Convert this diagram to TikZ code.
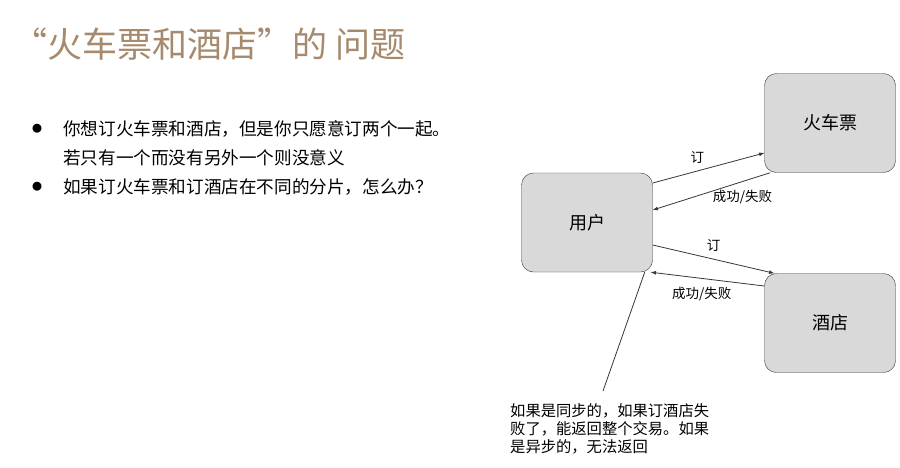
\documentclass[tikz,border=0pt]{standalone}
\usepackage{fontspec}
\setmainfont{Noto Sans CJK SC}
\usetikzlibrary{positioning}
\definecolor{titlebrown}{HTML}{A68A6D}
\definecolor{boxgray}{HTML}{D9D9D9}
\definecolor{linegray}{HTML}{303840}
\tikzset{
  sysbox/.style={draw=linegray,fill=boxgray,rounded corners=12pt,minimum width=131pt,minimum height=99pt,font=\fontsize{18}{20}\selectfont},
  msg/.style={draw=linegray,thick,-latex},
  msglabel/.style={font=\fontsize{13.5}{15}\selectfont},
  bullettext/.style={anchor=west,inner xsep=0pt,font=\fontsize{17.6}{20}\selectfont}
}
\begin{document}
\begin{tikzpicture}[x=1pt,y=-1pt]
\useasboundingbox[fill=white] (0,0) rectangle (900,467);
\node[anchor=west,inner xsep=0pt,text=titlebrown,font=\fontsize{35}{38}\selectfont] (title) at (12,44) {“火车票和酒店”的 问题};
\node[font=\fontsize{10}{12}\selectfont] (b1) at (37,129) {●};
\node[bullettext] (t1) at (63,129) {你想订火车票和酒店，但是你只愿意订两个一起。};
\node[bullettext] (t2) at (63,158) {若只有一个而没有另外一个则没意义};
\node[font=\fontsize{10}{12}\selectfont] (b2) at (37,187) {●};
\node[bullettext] (t3) at (63,187) {如果订火车票和订酒店在不同的分片，怎么办？};

\node[sysbox] (user) at (587,222.5) {用户};
\node[sysbox] (train) at (830,123) {火车票};
\node[sysbox] (hotel) at (830,323) {酒店};

\draw[msg] (user.east|-0,183) -- node[msglabel,above=4pt,pos=0.4] {订} (train.west|-0,153);
\draw[msg] ([xshift=6pt]train.south west) -- node[msglabel,below right=1pt and -20pt,pos=0.35] {成功/失败} (user.east|-0,210);
\draw[msg] (user.east|-0,245) -- node[msglabel,above=4pt,pos=0.5] {订} ([xshift=10pt]hotel.north west);
\draw[msg] (hotel.west|-0,286) -- node[msglabel,below=5pt,pos=0.55] {成功/失败} ([xshift=-2pt]user.south east);

\node[anchor=north west,inner xsep=0pt,align=left,font=\fontsize{15.3}{18}\selectfont] (note) at (510,400) {如果是同步的，如果订酒店失\\败了，能返回整个交易。如果\\是异步的，无法返回};
\coordinate (notetop) at (603,391);
\draw[linegray,thick] (notetop) -- ([xshift=-8pt]user.south east);
\end{tikzpicture}
\end{document}
